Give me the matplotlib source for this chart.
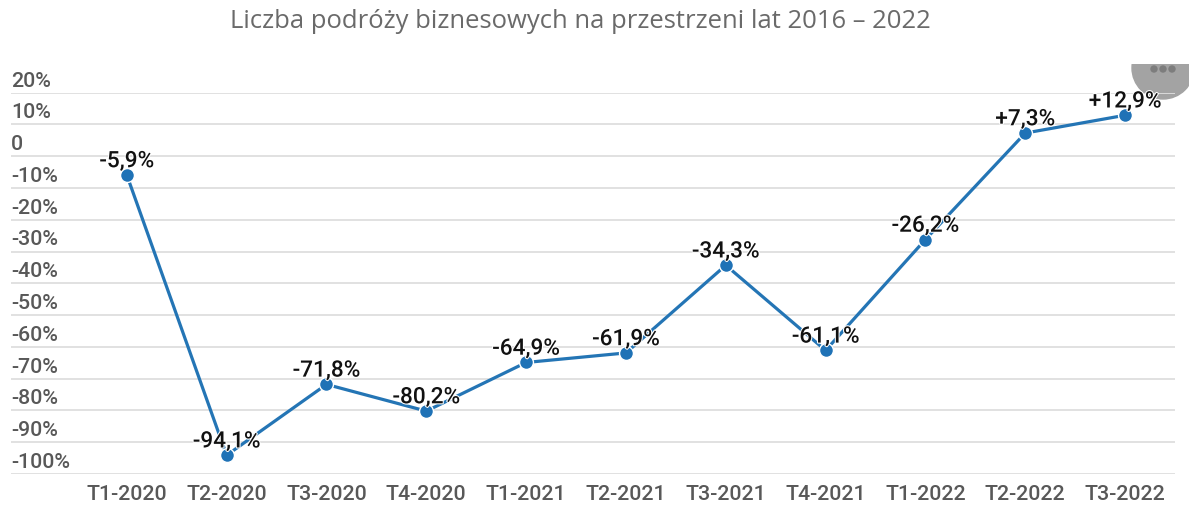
import matplotlib

matplotlib.use("Agg")
from matplotlib import patheffects
from matplotlib import pyplot as plt
from matplotlib.patches import Circle, Rectangle
from matplotlib.transforms import IdentityTransform, ScaledTranslation

quarters = ["T1-2020", "T2-2020", "T3-2020", "T4-2020", "T1-2021", "T2-2021",
            "T3-2021", "T4-2021", "T1-2022", "T2-2022", "T3-2022"]
values = [-5.9, -94.1, -71.8, -80.2, -64.9, -61.9, -34.3, -61.1, -26.2, 7.3, 12.9]
point_labels = ["-5,9%", "-94,1%", "-71,8%", "-80,2%", "-64,9%", "-61,9%",
                "-34,3%", "-61,1%", "-26,2%", "+7,3%", "+12,9%"]
y_ticks = [20, 10, 0, -10, -20, -30, -40, -50, -60, -70, -80, -90, -100]
y_labels = ["20%", "10%", "0", "-10%", "-20%", "-30%", "-40%", "-50%", "-60%",
            "-70%", "-80%", "-90%", "-100%"]

W, H = 1189, 526
plt.rcParams["font.family"] = ["Roboto", "DejaVu Sans"]

fig = plt.figure(figsize=(W / 100, H / 100), dpi=100)
ax = fig.add_axes([11 / W, 1 - 474 / H, (1175 - 11) / W, (474 - 92.7) / H])
ax.patch.set_visible(False)

x = list(range(len(quarters)))
ax.plot(x, values, color="#2475b5", linewidth=2.3, zorder=3)
ax.plot(x, values, linestyle="none", marker="o", markersize=10, color="#1f72b6",
        markeredgecolor="white", markeredgewidth=1.0, zorder=4)

for xi, val, text in zip(x, values, point_labels):
    ax.annotate(text, (xi, val), xytext=(0, 2), textcoords="offset points", ha="center",
                va="bottom", fontsize=16.3, fontweight="medium", color="#111111", zorder=5,
                path_effects=[patheffects.withStroke(linewidth=1.5, foreground="white")])

ax.set_xlim(-1.16, 10.5)
ax.set_ylim(-100, 20)
ax.set_xticks(x, quarters)
ax.set_yticks(y_ticks, y_labels)
ax.grid(True, axis="y", color="#dedede", linewidth=1.3)
ax.set_axisbelow(True)
for spine in ax.spines.values():
    spine.set_visible(False)

ax.tick_params(axis="both", length=0, labelcolor="#585858", labelsize=15.4)
ax.tick_params(axis="x", pad=8)
ax.tick_params(axis="y", pad=0)
for label in ax.get_xticklabels():
    label.set_fontweight("medium")
for label in ax.get_yticklabels():
    label.set_fontweight("medium")
    label.set_horizontalalignment("left")
    label.set_verticalalignment("bottom")
    label.set_transform(label.get_transform() + ScaledTranslation(0, 1.5 / 72, fig.dpi_scale_trans))

fig.text(580 / W, 1 - 22 / H, "Liczba podróży biznesowych na przestrzeni lat 2016 – 2022",
         family="Open Sans", fontsize=18.45, color="#6a6a6a", ha="center", va="center")

# grey overflow button behind the axes, cut off above y=64
pixels = IdentityTransform()
button = Circle((1163, H - 68), 31, transform=pixels, color="#a3a3a3", zorder=-2)
fig.add_artist(button)
button.set_clip_path(Rectangle((1100, 0), 89, H - 64, transform=pixels))
for dot_x in (1154, 1163, 1172):
    fig.add_artist(Circle((dot_x, H - 69), 3, transform=pixels, color="#7d7d7d", zorder=-1))

fig.savefig("out.png", dpi=100)
plt.close(fig)
